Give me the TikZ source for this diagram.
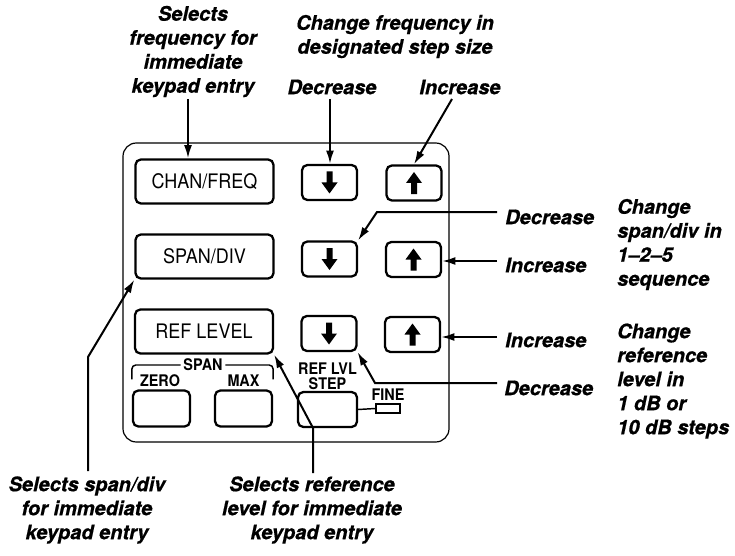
\documentclass[tikz,border=0pt]{standalone}
\usepackage{fontspec}
\setmainfont{TeX Gyre Heros}[BoldItalicFeatures={FakeBold=0.6}]
\newfontfamily\panelfont[FakeStretch=0.9]{TeX Gyre Heros}
\usetikzlibrary{arrows.meta}
\tikzset{
  lbl/.style={font=\fontsize{15}{18}\selectfont\bfseries\itshape, inner sep=0pt, align=center},
  lbll/.style={lbl, align=left, anchor=west},
  bigkey/.style={draw, line width=1.7pt, rounded corners=4pt, minimum width=103.5pt, minimum height=33pt, inner sep=0pt, font=\panelfont\fontsize{15}{18}\selectfont},
  smallkey/.style={draw, line width=1.7pt, rounded corners=4pt, minimum width=41.25pt, minimum height=26.25pt, inner sep=0pt},
  lowkey/.style={draw, line width=1.7pt, rounded corners=4pt, minimum width=42.75pt, minimum height=27pt, inner sep=0pt},
  keylbl/.style={font=\panelfont\fontsize{12}{11.5}\selectfont\bfseries, inner sep=0pt, align=center},
  leader/.style={line width=1.5pt, -{Latex[length=10pt,width=6pt]}},
}
\newcommand{\dnglyph}[1]{\fill[shift={(#1.center)}] (-3,-11) -- (3,-11) -- (3,0) -- (8,0) -- (0,11) -- (-8,0) -- (-3,0) -- cycle;}
\newcommand{\upglyph}[1]{\fill[shift={(#1.center)}] (-3,11) -- (3,11) -- (3,0) -- (8,0) -- (0,-11) -- (-8,0) -- (-3,0) -- cycle;}
\begin{document}
\begin{tikzpicture}[x=0.75pt, y=-0.75pt]
\useasboundingbox (0,0) rectangle (735,556);

% panel
\node[draw, line width=0.9pt, rounded corners=10pt, minimum width=244.5pt, minimum height=224.25pt, inner sep=0pt] (panel) at (286,292.5) {};

% keys
\node[bigkey] (cf) at (204.5,181.5) {CHAN/FREQ};
\node[bigkey] (sd) at (204.5,256.5) {SPAN/DIV};
\node[bigkey] (rl) at (204,331.5) {REF LEVEL};

\node[smallkey] (d1) at (329.5,182.5) {};
\node[smallkey] (u1) at (414,183) {};
\node[smallkey] (d2) at (329.5,259) {};
\node[smallkey] (u2) at (413.5,259.5) {};
\node[smallkey] (d3) at (329,333.5) {};
\node[smallkey] (u3) at (412.5,334.5) {};
\dnglyph{d1}\upglyph{u1}
\dnglyph{d2}\upglyph{u2}
\dnglyph{d3}\upglyph{u3}

\node[lowkey] (zero) at (161.5,408.5) {};
\node[lowkey] (max) at (243.5,408.5) {};
\node[lowkey, minimum width=44.25pt, minimum height=26.25pt] (step) at (327.5,409.5) {};
\node[draw, line width=0.9pt, minimum width=18pt, minimum height=6.75pt, inner sep=0pt] (led) at (388,408.5) {};
\draw[line width=1.1pt] (step.east) -- (led.west);

\node[keylbl] (spanlbl) at (203,365) {SPAN};
\draw[line width=1.1pt, rounded corners=3pt] ([xshift=-2pt]spanlbl.west) -| ([yshift=7.5pt]zero.north west);
\draw[line width=1.1pt, rounded corners=3pt] ([xshift=2pt]spanlbl.east) -| ([yshift=7.5pt]max.north east);
\node[keylbl] (zerolbl) at (160,381) {ZERO};
\node[keylbl] (maxlbl) at (243.5,381) {MAX};
\node[keylbl] (steplbl) at (327.5,376) {REF LVL\\STEP};
\node[keylbl] (finelbl) at (388,395) {FINE};

% labels
\node[lbl] (t1) at (193,51.5) {Selects\\frequency for\\immediate\\keypad entry};
\node[lbl] (t2) at (395,36.5) {Change frequency in\\designated step size};
\node[lbl] (dec1) at (332,87) {Decrease};
\node[lbl] (inc1) at (460,87) {Increase};
\node[lbll] (dec2) at (505,217) {Decrease};
\node[lbll] (inc2) at (505,265) {Increase};
\node[lbll] (inc3) at (505,340) {Increase};
\node[lbll] (dec3) at (504,388) {Decrease};
\node[lbll] (t3) at (617,244.5) {Change\\span/div in\\1–2–5\\sequence};
\node[lbll] (t4) at (617,381) {Change\\reference\\level in\\1 dB or\\10 dB steps};
\node[lbl] (t5) at (87,510) {Selects span/div\\for immediate\\keypad entry};
\node[lbl] (t6) at (312,510) {Selects reference\\level for immediate\\keypad entry};

% leaders
\coordinate (a1) at (188,99);
\draw[leader] (a1) -- (a1 |- cf.north);
\coordinate (a2) at (330,99);
\draw[leader] (a2) -- (a2 |- d1.north);
\coordinate (a3) at (452,99);
\draw[leader] (a3) -- (u1.north);
\coordinate (a4) at (497,212);
\coordinate (b4) at (377,212);
\draw[leader] (a4) -- (b4) -- (d2.north east);
\coordinate (a5) at (497,261);
\draw[leader] (a5) -- (a5 -| u2.east);
\coordinate (a6) at (497,337);
\draw[leader] (a6) -- (a6 -| u3.east);
\coordinate (a7) at (497,383);
\coordinate (b7) at (375,383);
\draw[leader] (a7) -- (b7) -- (d3.south east);
\coordinate (a8) at (88,471);
\coordinate (b8) at (88,357);
\draw[leader] (a8) -- (b8) -- (sd.south west);
\coordinate (a9) at (313,473);
\coordinate (b9) at (313,428);
\draw[leader] (a9) -- (b9) -- (rl.south east);
\end{tikzpicture}
\end{document}
